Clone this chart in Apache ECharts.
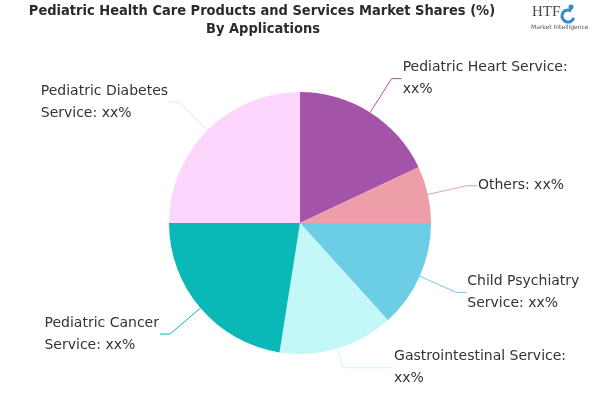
<!DOCTYPE html>
<html><head><meta charset="utf-8">
<script src="https://cdn.jsdelivr.net/npm/echarts@6/dist/echarts.min.js"></script>
<style>html,body{margin:0;padding:0;background:#fff}#c{width:600px;height:400px}</style>
</head><body><div id="c"></div>
<script>
var categories = ['Pediatric Heart Service', 'Others', 'Child Psychiatry Service', 'Gastrointestinal Service', 'Pediatric Cancer Service', 'Pediatric Diabetes Service'];
var values = [18, 7, 13.3, 14.2, 22.5, 25];
var labelLines = [['Pediatric Heart Service:', 'xx%'], ['Others: xx%'], ['Child Psychiatry', 'Service: xx%'], ['Gastrointestinal Service:', 'xx%'], ['Pediatric Cancer', 'Service: xx%'], ['Pediatric Diabetes', 'Service: xx%']];
var colors = ['#a454a8', '#ee9ea8', '#6ccde6', '#c4f7f7', '#0bb8b8', '#fcd6fc'];
var titleLines = ['Pediatric Health Care Products and Services Market Shares (%)', 'By Applications'];

var chart = echarts.init(document.getElementById('c'));
chart.setOption({
  animation: false,
  graphic: [
    {type: 'text', x: 262, y: 4, style: {text: titleLines[0], align: 'center', font: 'bold 14.5px "DejaVu Sans Condensed"', fill: '#2b2b2b'}},
    {type: 'text', x: 263, y: 22, style: {text: titleLines[1], align: 'center', font: 'bold 14.5px "DejaVu Sans Condensed"', fill: '#2b2b2b'}},
    {type: 'text', x: 532, y: 5, style: {text: 'HTF', font: '15px "Liberation Serif"', fill: '#4a4a5a'}},
    {type: 'arc', shape: {cx: 568, cy: 16, r: 6, startAngle: 0.3, endAngle: 5.3}, style: {stroke: '#3a8cc8', lineWidth: 3, fill: null}},
    {type: 'circle', shape: {cx: 571, cy: 7, r: 2.5}, style: {fill: '#3a8cc8'}},
    {type: 'text', x: 531, y: 24, style: {text: 'Market Intelligence', font: '6px "DejaVu Sans"', fill: '#555'}}
  ],
  series: [{
    type: 'pie',
    center: [300, 223],
    radius: 131,
    startAngle: 90,
    clockwise: true,
    data: categories.map(function (c, i) {
      var item = {name: c, value: values[i], itemStyle: {color: colors[i]}, labelLine: {lineStyle: {color: colors[i]}}};
      if (i === 3) { item.labelLine.length = 20; item.labelLine.length2 = 50; }
      return item;
    }),
    label: {
      formatter: function (p) {
        return labelLines[p.dataIndex].map(function (s) { return '{a|' + s + '}'; }).join('\n');
      },
      rich: {a: {align: 'left', fontFamily: 'DejaVu Sans', fontSize: 14, color: '#333', lineHeight: 22}},
      fontFamily: 'DejaVu Sans', fontSize: 14, color: '#333', lineHeight: 22,
      distanceToLabelLine: 1
    },
    labelLine: {length: 40, length2: 10, smooth: false}
  }]
});
</script></body></html>
